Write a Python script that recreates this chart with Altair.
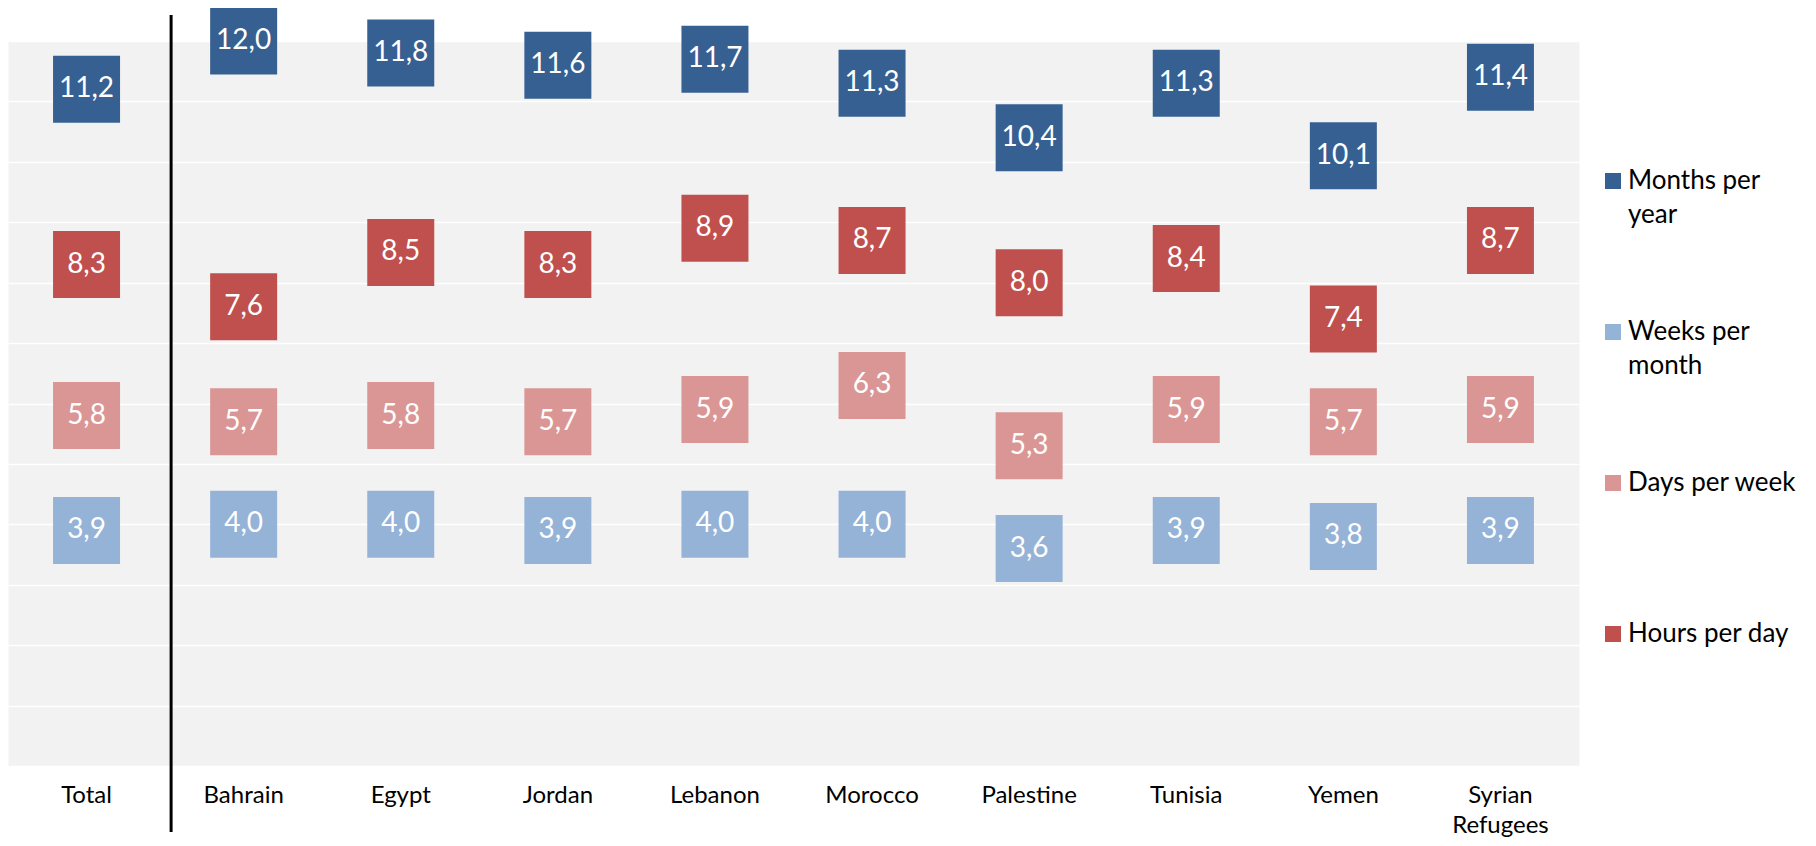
import altair as alt
import pandas as pd

categories = ["Total", "Bahrain", "Egypt", "Jordan", "Lebanon", "Morocco",
              "Palestine", "Tunisia", "Yemen", "Syrian Refugees"]
months_per_year = [11.2, 12.0, 11.8, 11.6, 11.7, 11.3, 10.4, 11.3, 10.1, 11.4]
weeks_per_month = [3.9, 4.0, 4.0, 3.9, 4.0, 4.0, 3.6, 3.9, 3.8, 3.9]
days_per_week = [5.8, 5.7, 5.8, 5.7, 5.9, 6.3, 5.3, 5.9, 5.7, 5.9]
hours_per_day = [8.3, 7.6, 8.5, 8.3, 8.9, 8.7, 8.0, 8.4, 7.4, 8.7]

series_names = ["Months per year", "Weeks per month", "Days per week", "Hours per day"]
series_colors = ["#376092", "#95B3D7", "#DA9694", "#C0504D"]

rows = []
for name, vals in zip(series_names, [months_per_year, weeks_per_month, days_per_week, hours_per_day]):
    for c, v in zip(categories, vals):
        rows.append({"category": c, "series": name, "value": v,
                     "label": f"{v:.1f}".replace(".", ",")})
df = pd.DataFrame(rows)

FONT = "Lato"

x_enc = alt.X(
    "category:N", sort=categories,
    scale=alt.Scale(paddingInner=0, paddingOuter=0),
    axis=alt.Axis(
        title=None, labelAngle=0, ticks=False, domain=False, grid=False,
        labelFontSize=24, labelColor="black", labelFont=FONT, labelPadding=17,
        labelLineHeight=30,
        labelExpr="datum.value == 'Syrian Refugees' ? ['Syrian', 'Refugees'] : datum.value",
    ),
)
y_enc = alt.Y(
    "value:Q",
    scale=alt.Scale(domain=[0, 12], nice=False, zero=True),
    axis=alt.Axis(title=None, labels=False, ticks=False, domain=False, grid=True,
                  gridColor="white", gridWidth=1.5, tickCount=12),
)

base = alt.Chart(df)

squares = base.mark_square(size=4489, opacity=1).encode(
    x=x_enc,
    y=y_enc,
    color=alt.Color(
        "series:N",
        scale=alt.Scale(domain=series_names, range=series_colors),
        legend=alt.Legend(
            title=None, orient="none", legendX=1592, legendY=127,
            symbolType="square", symbolSize=256, symbolStrokeWidth=0,
            labelFontSize=26, labelFont=FONT, labelColor="black",
            labelOffset=2, labelLimit=400,
            rowPadding=91, padding=0,
            labelExpr=(
                "datum.label == 'Months per year' ? ['Months per', 'year'] : "
                "datum.label == 'Weeks per month' ? ['Weeks per', 'month'] : "
                "[datum.label, '']"
            ),
        ),
    ),
)

labels = base.mark_text(color="white", fontSize=28, font=FONT, baseline="middle").encode(
    x=alt.X("category:N", sort=categories),
    y=alt.Y("value:Q"),
    text="label:N",
)

divider = alt.Chart(pd.DataFrame({"d": [0]})).mark_rule(
    color="black", strokeWidth=3, xOffset=6
).encode(
    x=alt.X(datum="Bahrain", type="nominal", bandPosition=0),
    y=alt.value(-26),
    y2=alt.value(791),
)

chart = alt.layer(squares, labels, divider).properties(
    width=1571, height=725,
    padding={"left": 0, "top": 33, "right": 220, "bottom": 72},
    autosize=alt.AutoSizeParams(type="none"),
).configure(
    view={"fill": "#F2F2F2", "stroke": "transparent"},
    style={"guide-label": {"lineHeight": 34}},
)

chart.save("out.html", embed_options={"renderer": "svg", "actions": False})
